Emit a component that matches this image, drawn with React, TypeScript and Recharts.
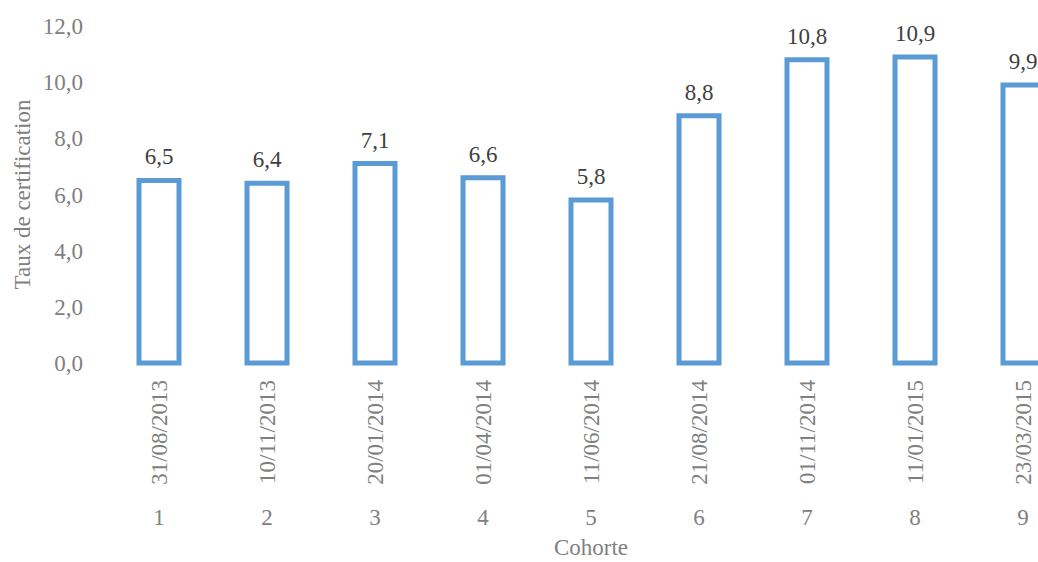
import React from 'react';
import { BarChart, Bar, XAxis, YAxis, LabelList } from 'recharts';

const cohortes = ['1', '2', '3', '4', '5', '6', '7', '8', '9'];
const dates = [
  '31/08/2013',
  '10/11/2013',
  '20/01/2014',
  '01/04/2014',
  '11/06/2014',
  '21/08/2014',
  '01/11/2014',
  '11/01/2015',
  '23/03/2015',
];
const taux = [6.5, 6.4, 7.1, 6.6, 5.8, 8.8, 10.8, 10.9, 9.9];
const yTicks = [0, 2, 4, 6, 8, 10, 12];

const data = cohortes.map((c, i) => ({ cohorte: c, date: dates[i], taux: taux[i] }));

const FONT = 'Liberation Serif';
const AXIS_GREY = '#808080';
const fmt = (v: number) => v.toFixed(1).replace('.', ',');

const CohorteTick = ({ x, y, payload, index }: any) => {
  const top = y + 17;
  return (
    <g>
      <text
        x={x}
        y={top}
        transform={`rotate(-90, ${x}, ${top})`}
        textAnchor="end"
        dominantBaseline="central"
        fill={AXIS_GREY}
        fontSize={23}
        style={{ fontFamily: FONT }}
      >
        {dates[index]}
      </text>
      <text
        x={x}
        y={y + 154}
        textAnchor="middle"
        dominantBaseline="central"
        fill={AXIS_GREY}
        fontSize={23}
        style={{ fontFamily: FONT }}
      >
        {payload.value}
      </text>
    </g>
  );
};

export default function App() {
  return (
    <div
      style={{
        position: 'absolute',
        left: 0,
        top: 0,
        width: 1038,
        height: 562,
        overflow: 'hidden',
        background: '#fff',
        fontFamily: FONT,
      }}
    >
      <BarChart
        width={1090}
        height={562}
        data={data}
        margin={{ top: 26, right: 13, left: 0, bottom: 0 }}
        style={{ fontFamily: FONT }}
      >
        <XAxis
          dataKey="cohorte"
          height={199}
          axisLine={false}
          tickLine={false}
          tickSize={0}
          tickMargin={0}
          interval={0}
          tick={<CohorteTick />}
          label={{
            value: 'Cohorte',
            position: 'insideBottom',
            offset: 7,
            fill: AXIS_GREY,
            fontSize: 23,
            style: { fontFamily: FONT },
          }}
        />
        <YAxis
          width={105}
          domain={[0, 12]}
          ticks={yTicks}
          axisLine={false}
          tickLine={false}
          tickSize={0}
          tickMargin={22}
          tickFormatter={fmt}
          tick={{ fill: AXIS_GREY, fontSize: 23, style: { fontFamily: FONT } }}
          label={{
            value: 'Taux de certification',
            angle: -90,
            position: 'insideLeft',
            offset: 22,
            fill: AXIS_GREY,
            fontSize: 23,
            style: { textAnchor: 'middle', fontFamily: FONT },
          }}
        />
        <Bar
          dataKey="taux"
          barSize={40}
          fill="#ffffff"
          stroke="#5B9BD5"
          strokeWidth={5}
          isAnimationActive={false}
        >
          <LabelList
            dataKey="taux"
            position="top"
            offset={16}
            formatter={(v: any) => fmt(Number(v))}
            fill="#404040"
            fontSize={23}
            style={{ fontFamily: FONT }}
          />
        </Bar>
      </BarChart>
    </div>
  );
}
